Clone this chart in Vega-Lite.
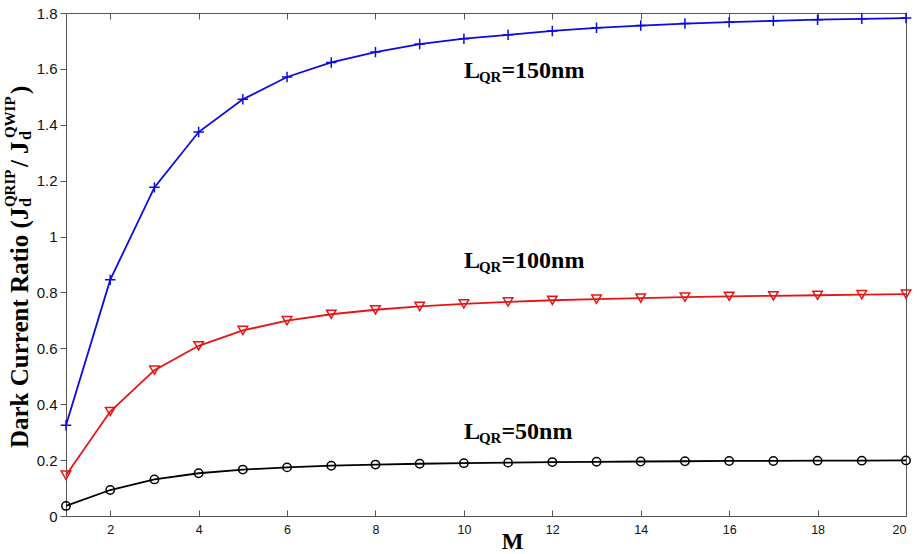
{
  "$schema": "https://vega.github.io/schema/vega-lite/v6.json",
  "width": 840,
  "height": 503,
  "autosize": {"type": "none"},
  "padding": {"left": 66, "top": 13, "right": 11, "bottom": 38},
  "background": "white",
  "config": {
    "view": {"stroke": "#555555", "strokeWidth": 1},
    "font": "Liberation Sans"
  },
  "datasets": {
    "curves": [
      {"M": 1, "ratio": 0.325, "L": "150nm"}, {"M": 2, "ratio": 0.845, "L": "150nm"},
      {"M": 3, "ratio": 1.176, "L": "150nm"}, {"M": 4, "ratio": 1.374, "L": "150nm"},
      {"M": 5, "ratio": 1.491, "L": "150nm"}, {"M": 6, "ratio": 1.571, "L": "150nm"},
      {"M": 7, "ratio": 1.623, "L": "150nm"}, {"M": 8, "ratio": 1.660, "L": "150nm"},
      {"M": 9, "ratio": 1.689, "L": "150nm"}, {"M": 10, "ratio": 1.708, "L": "150nm"},
      {"M": 11, "ratio": 1.722, "L": "150nm"}, {"M": 12, "ratio": 1.736, "L": "150nm"},
      {"M": 13, "ratio": 1.747, "L": "150nm"}, {"M": 14, "ratio": 1.755, "L": "150nm"},
      {"M": 15, "ratio": 1.762, "L": "150nm"}, {"M": 16, "ratio": 1.767, "L": "150nm"},
      {"M": 17, "ratio": 1.772, "L": "150nm"}, {"M": 18, "ratio": 1.776, "L": "150nm"},
      {"M": 19, "ratio": 1.779, "L": "150nm"}, {"M": 20, "ratio": 1.782, "L": "150nm"},
      {"M": 1, "ratio": 0.146, "L": "100nm"}, {"M": 2, "ratio": 0.374, "L": "100nm"},
      {"M": 3, "ratio": 0.522, "L": "100nm"}, {"M": 4, "ratio": 0.609, "L": "100nm"},
      {"M": 5, "ratio": 0.664, "L": "100nm"}, {"M": 6, "ratio": 0.699, "L": "100nm"},
      {"M": 7, "ratio": 0.722, "L": "100nm"}, {"M": 8, "ratio": 0.738, "L": "100nm"},
      {"M": 9, "ratio": 0.750, "L": "100nm"}, {"M": 10, "ratio": 0.759, "L": "100nm"},
      {"M": 11, "ratio": 0.766, "L": "100nm"}, {"M": 12, "ratio": 0.772, "L": "100nm"},
      {"M": 13, "ratio": 0.776, "L": "100nm"}, {"M": 14, "ratio": 0.780, "L": "100nm"},
      {"M": 15, "ratio": 0.783, "L": "100nm"}, {"M": 16, "ratio": 0.786, "L": "100nm"},
      {"M": 17, "ratio": 0.788, "L": "100nm"}, {"M": 18, "ratio": 0.790, "L": "100nm"},
      {"M": 19, "ratio": 0.792, "L": "100nm"}, {"M": 20, "ratio": 0.794, "L": "100nm"},
      {"M": 1, "ratio": 0.036, "L": "50nm"}, {"M": 2, "ratio": 0.093, "L": "50nm"},
      {"M": 3, "ratio": 0.131, "L": "50nm"}, {"M": 4, "ratio": 0.153, "L": "50nm"},
      {"M": 5, "ratio": 0.166, "L": "50nm"}, {"M": 6, "ratio": 0.174, "L": "50nm"},
      {"M": 7, "ratio": 0.180, "L": "50nm"}, {"M": 8, "ratio": 0.184, "L": "50nm"},
      {"M": 9, "ratio": 0.187, "L": "50nm"}, {"M": 10, "ratio": 0.189, "L": "50nm"},
      {"M": 11, "ratio": 0.191, "L": "50nm"}, {"M": 12, "ratio": 0.193, "L": "50nm"},
      {"M": 13, "ratio": 0.194, "L": "50nm"}, {"M": 14, "ratio": 0.195, "L": "50nm"},
      {"M": 15, "ratio": 0.196, "L": "50nm"}, {"M": 16, "ratio": 0.197, "L": "50nm"},
      {"M": 17, "ratio": 0.197, "L": "50nm"}, {"M": 18, "ratio": 0.198, "L": "50nm"},
      {"M": 19, "ratio": 0.198, "L": "50nm"}, {"M": 20, "ratio": 0.199, "L": "50nm"}
    ],
    "labels": [
      {"M": 10, "ratio": 1.568, "rest": "=150nm"},
      {"M": 10, "ratio": 0.888, "rest": "=100nm"},
      {"M": 10, "ratio": 0.277, "rest": "=50nm"}
    ],
    "ytitle": [{"M": 0.14, "ratio": 0.243}]
  },
  "resolve": {"axis": {"x": "independent", "y": "independent"}},
  "layer": [
    {
      "data": {"name": "curves"},
      "mark": {"type": "line", "strokeWidth": 1.8},
      "encoding": {
        "x": {
          "field": "M", "type": "quantitative",
          "scale": {"domain": [1, 20], "nice": false, "zero": false},
          "axis": {
            "values": [2, 4, 6, 8, 10, 12, 14, 16, 18, 20],
            "grid": false, "domain": false,
            "tickSize": -6, "tickColor": "#555555",
            "labelPadding": 13, "labelFontSize": 12.5, "labelColor": "#111111",
            "title": "M", "titleFont": "Liberation Serif", "titleFontSize": 23,
            "titleFontWeight": "bold", "titleColor": "#000000",
            "titleX": 446, "titleY": 32, "titleBaseline": "alphabetic", "titleAlign": "center"
          }
        },
        "y": {
          "field": "ratio", "type": "quantitative",
          "scale": {"domain": [0, 1.8], "nice": false},
          "axis": {
            "values": [0, 0.2, 0.4, 0.6, 0.8, 1, 1.2, 1.4, 1.6, 1.8],
            "format": "~g",
            "grid": false, "domain": false,
            "tickSize": 6, "tickColor": "#555555",
            "labelPadding": 3, "labelFontSize": 15, "labelColor": "#111111",
            "title": null
          }
        },
        "color": {
          "field": "L", "type": "nominal",
          "scale": {"domain": ["150nm", "100nm", "50nm"], "range": ["#0a0ae6", "#e81414", "#000000"]},
          "legend": null
        }
      }
    },
    {
      "data": {"name": "curves"},
      "mark": {"type": "point", "filled": false, "strokeWidth": 1.5, "opacity": 1},
      "encoding": {
        "x": {
          "field": "M", "type": "quantitative",
          "axis": {
            "orient": "top",
            "values": [2, 4, 6, 8, 10, 12, 14, 16, 18, 20],
            "grid": false, "domain": false, "labels": false,
            "tickSize": -6, "tickColor": "#555555", "title": null
          }
        },
        "y": {"field": "ratio", "type": "quantitative", "axis": null},
        "color": {"field": "L", "type": "nominal", "legend": null},
        "shape": {
          "field": "L", "type": "nominal",
          "scale": {"domain": ["150nm", "100nm", "50nm"], "range": ["M-1,0H1M0,-1V1", "triangle-down", "circle"]},
          "legend": null
        },
        "size": {
          "field": "L", "type": "nominal",
          "scale": {"domain": ["150nm", "100nm", "50nm"], "range": [110, 70, 45]},
          "legend": null
        }
      }
    },
    {
      "data": {"name": "labels"},
      "mark": {"type": "text", "text": "L", "font": "Liberation Serif", "fontWeight": "bold", "fontSize": 24, "align": "left", "baseline": "alphabetic", "color": "#000000"},
      "encoding": {
        "x": {"field": "M", "type": "quantitative", "axis": null},
        "y": {"field": "ratio", "type": "quantitative", "axis": null}
      }
    },
    {
      "data": {"name": "labels"},
      "mark": {"type": "text", "text": "QR", "font": "Liberation Serif", "fontWeight": "bold", "fontSize": 15, "align": "left", "baseline": "alphabetic", "dx": 15, "dy": 4, "color": "#000000"},
      "encoding": {
        "x": {"field": "M", "type": "quantitative", "axis": null},
        "y": {"field": "ratio", "type": "quantitative", "axis": null}
      }
    },
    {
      "data": {"name": "labels"},
      "mark": {"type": "text", "font": "Liberation Serif", "fontWeight": "bold", "fontSize": 24, "align": "left", "baseline": "alphabetic", "dx": 37.5, "color": "#000000"},
      "encoding": {
        "x": {"field": "M", "type": "quantitative", "axis": null},
        "y": {"field": "ratio", "type": "quantitative", "axis": null},
        "text": {"field": "rest", "type": "nominal"}
      }
    },
    {
      "data": {"name": "ytitle"},
      "mark": {"type": "text", "text": "Dark Current Ratio (J", "angle": 270, "font": "Liberation Serif", "fontWeight": "bold", "fontSize": 25, "align": "left", "baseline": "alphabetic", "color": "#000000"},
      "encoding": {
        "x": {"field": "M", "type": "quantitative", "axis": null},
        "y": {"field": "ratio", "type": "quantitative", "axis": null}
      }
    },
    {
      "data": {"name": "ytitle"},
      "mark": {"type": "text", "text": "d", "angle": 270, "font": "Liberation Serif", "fontWeight": "bold", "fontSize": 16, "align": "left", "baseline": "alphabetic", "dx": 241, "dy": 3, "color": "#000000"},
      "encoding": {
        "x": {"field": "M", "type": "quantitative", "axis": null},
        "y": {"field": "ratio", "type": "quantitative", "axis": null}
      }
    },
    {
      "data": {"name": "ytitle"},
      "mark": {"type": "text", "text": "QRIP", "angle": 270, "font": "Liberation Serif", "fontWeight": "bold", "fontSize": 15, "align": "left", "baseline": "alphabetic", "dx": 241, "dy": -13, "color": "#000000"},
      "encoding": {
        "x": {"field": "M", "type": "quantitative", "axis": null},
        "y": {"field": "ratio", "type": "quantitative", "axis": null}
      }
    },
    {
      "data": {"name": "ytitle"},
      "mark": {"type": "text", "text": "/ J", "angle": 270, "font": "Liberation Serif", "fontWeight": "bold", "fontSize": 25, "align": "left", "baseline": "alphabetic", "dx": 281, "color": "#000000"},
      "encoding": {
        "x": {"field": "M", "type": "quantitative", "axis": null},
        "y": {"field": "ratio", "type": "quantitative", "axis": null}
      }
    },
    {
      "data": {"name": "ytitle"},
      "mark": {"type": "text", "text": "d", "angle": 270, "font": "Liberation Serif", "fontWeight": "bold", "fontSize": 16, "align": "left", "baseline": "alphabetic", "dx": 308, "dy": 3, "color": "#000000"},
      "encoding": {
        "x": {"field": "M", "type": "quantitative", "axis": null},
        "y": {"field": "ratio", "type": "quantitative", "axis": null}
      }
    },
    {
      "data": {"name": "ytitle"},
      "mark": {"type": "text", "text": "QWIP", "angle": 270, "font": "Liberation Serif", "fontWeight": "bold", "fontSize": 15, "align": "left", "baseline": "alphabetic", "dx": 310, "dy": -13, "color": "#000000"},
      "encoding": {
        "x": {"field": "M", "type": "quantitative", "axis": null},
        "y": {"field": "ratio", "type": "quantitative", "axis": null}
      }
    },
    {
      "data": {"name": "ytitle"},
      "mark": {"type": "text", "text": ")", "angle": 270, "font": "Liberation Serif", "fontWeight": "bold", "fontSize": 25, "align": "left", "baseline": "alphabetic", "dx": 354, "color": "#000000"},
      "encoding": {
        "x": {"field": "M", "type": "quantitative", "axis": null},
        "y": {"field": "ratio", "type": "quantitative", "axis": null}
      }
    }
  ]
}
